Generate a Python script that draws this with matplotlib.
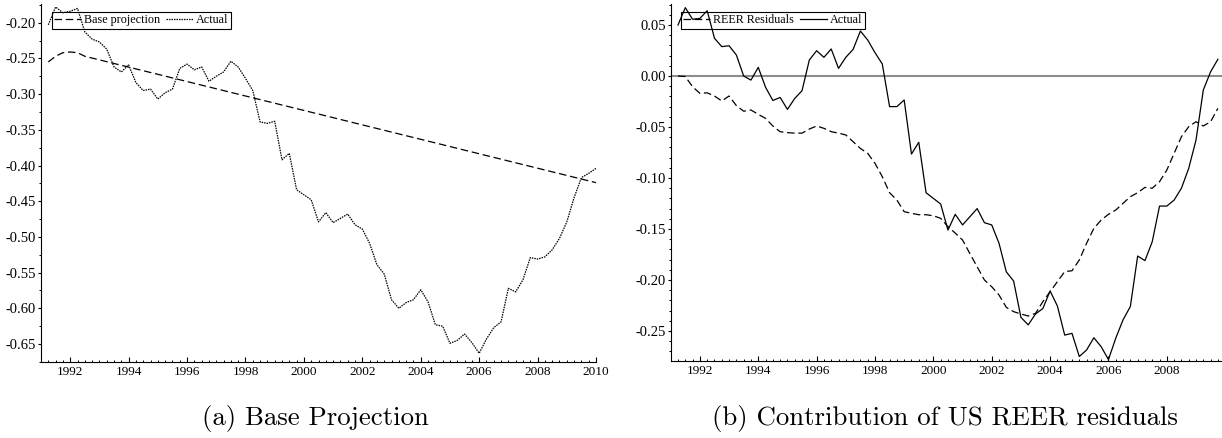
import numpy as np
import matplotlib
matplotlib.use("Agg")
import matplotlib.pyplot as plt
from matplotlib.ticker import MultipleLocator, FormatStrFormatter

# ---------------- data ----------------
start_year = 1991.25  # first quarter plotted

# Panel (a): actual (quarterly, 1991Q2 .. 2010Q1)
actual_a = [
    -0.203, -0.178, -0.186,                      # 1991
    -0.184, -0.180, -0.213, -0.223,              # 1992
    -0.227, -0.237, -0.262, -0.269,              # 1993
    -0.259, -0.284, -0.295, -0.293,              # 1994
    -0.307, -0.298, -0.293, -0.264,              # 1995
    -0.258, -0.266, -0.262, -0.282,              # 1996
    -0.275, -0.269, -0.254, -0.262,              # 1997
    -0.278, -0.295, -0.339, -0.341,              # 1998
    -0.338, -0.392, -0.383, -0.434,              # 1999
    -0.441, -0.448, -0.479, -0.466,              # 2000
    -0.480, -0.474, -0.468, -0.483,              # 2001
    -0.489, -0.509, -0.539, -0.552,              # 2002
    -0.588, -0.600, -0.592, -0.588,              # 2003
    -0.574, -0.591, -0.623, -0.625,              # 2004
    -0.649, -0.645, -0.636, -0.648,              # 2005
    -0.663, -0.643, -0.627, -0.619,              # 2006
    -0.572, -0.577, -0.560, -0.529,              # 2007
    -0.531, -0.528, -0.518, -0.502,              # 2008
    -0.479, -0.445, -0.417, -0.411,              # 2009
    -0.404,                                      # 2010
]
# Panel (a): base projection (read at its turning points)
base_years = [1991.25, 1991.5, 1991.75, 1992.0, 1992.25, 1992.5, 2010.0]
base_vals = [-0.255, -0.247, -0.242, -0.241, -0.242, -0.247, -0.424]

# Panel (b): actual (quarterly, 1991Q2 .. 2009Q4)
actual_b = [
    0.050, 0.067, 0.0556,                        # 1991
    0.0565, 0.064, 0.037, 0.0288,                # 1992
    0.0297, 0.0206, 0.000, -0.004,               # 1993
    0.0085, -0.011, -0.024, -0.021,              # 1994
    -0.0327, -0.022, -0.0144, 0.0157,            # 1995
    0.0248, 0.0183, 0.0265, 0.0075,              # 1996
    0.0183, 0.0261, 0.0441, 0.0353,              # 1997
    0.0229, 0.0118, -0.030, -0.030,              # 1998
    -0.0235, -0.0765, -0.065, -0.1144,           # 1999
    -0.120, -0.1255, -0.151, -0.1356,            # 2000
    -0.146, -0.138, -0.130, -0.1438,             # 2001
    -0.146, -0.164, -0.192, -0.201,              # 2002
    -0.2366, -0.244, -0.2333, -0.228,            # 2003
    -0.2108, -0.2255, -0.254, -0.2523,           # 2004
    -0.275, -0.2686, -0.2566, -0.2654,           # 2005
    -0.278, -0.257, -0.239, -0.226,              # 2006
    -0.1765, -0.181, -0.1624, -0.1275,           # 2007
    -0.1275, -0.1216, -0.110, -0.0905,           # 2008
    -0.0627, -0.0137, 0.0042, 0.0164,            # 2009
]
# Panel (b): REER residuals contribution
reer_b = [
    0.0, -0.0005, -0.0105,                       # 1991
    -0.017, -0.0165, -0.0196, -0.0245,           # 1992
    -0.0196, -0.029, -0.0345, -0.0333,           # 1993
    -0.0376, -0.0415, -0.049, -0.0546,           # 1994
    -0.0555, -0.056, -0.056, -0.052,             # 1995
    -0.049, -0.0513, -0.0546, -0.056,            # 1996
    -0.0578, -0.0644, -0.071, -0.0758,           # 1997
    -0.0856, -0.0987, -0.1144, -0.1216,          # 1998
    -0.133, -0.1346, -0.136, -0.136,             # 1999
    -0.137, -0.1395, -0.1477, -0.154,            # 2000
    -0.1608, -0.174, -0.187, -0.200,             # 2001
    -0.2066, -0.2147, -0.2268, -0.231,           # 2002
    -0.2333, -0.2353, -0.2327, -0.2213,          # 2003
    -0.2114, -0.2016, -0.1918, -0.1909,          # 2004
    -0.1804, -0.164, -0.1493, -0.1412,           # 2005
    -0.1356, -0.1314, -0.1248, -0.1183,          # 2006
    -0.1144, -0.1092, -0.110, -0.1036,           # 2007
    -0.0922, -0.0758, -0.0595, -0.0497,          # 2008
    -0.0448, -0.049, -0.0448, -0.0317,           # 2009
]

legend_a = ["Base projection", "Actual"]
legend_b = ["REER Residuals", "Actual"]
caption_a = "(a) Base Projection"
caption_b = "(b) Contribution of US REER residuals"

# ---------------- style ----------------
plt.rcParams["font.family"] = ["Liberation Serif", "DejaVu Serif"]
W, H = 1222, 438
fig = plt.figure(figsize=(W / 100, H / 100), dpi=100)


def px_axes(l, t, r, b):
    return fig.add_axes([l / W, 1 - b / H, (r - l) / W, (b - t) / H])


def style(ax, xmax, ymajor, yminor, yfmt):
    for s in ("top", "right"):
        ax.spines[s].set_visible(False)
    for s in ("left", "bottom"):
        ax.spines[s].set_linewidth(0.8)
    ax.xaxis.set_major_locator(MultipleLocator(2))
    ax.xaxis.set_minor_locator(MultipleLocator(0.25))
    ax.yaxis.set_major_locator(MultipleLocator(ymajor))
    ax.yaxis.set_minor_locator(MultipleLocator(yminor))
    ax.yaxis.set_major_formatter(FormatStrFormatter(yfmt))
    ax.xaxis.set_major_formatter(FormatStrFormatter("%d"))
    ax.tick_params(axis="x", which="major", direction="in", length=3.6, width=0.8,
                   pad=3, labelsize=9.5)
    ax.tick_params(axis="x", which="minor", direction="in", length=1.8, width=0.7)
    ax.tick_params(axis="y", which="major", direction="out", length=2.5, width=0.8,
                   pad=1, labelsize=10.5)
    ax.tick_params(axis="y", which="minor", direction="out", length=1.6, width=0.7)
    ax.set_xlim(1991.0, xmax)


def add_legend(ax, x, y):
    leg = ax.legend(loc="upper left", bbox_to_anchor=(x, y), ncol=2,
                    frameon=True, fancybox=False, borderaxespad=0,
                    fontsize=8.7, handlelength=2.2, handletextpad=0.25,
                    columnspacing=0.55, borderpad=0.2)
    fr = leg.get_frame()
    fr.set_edgecolor("black")
    fr.set_linewidth(0.8)
    fr.set_alpha(1.0)
    fr.set_facecolor("none")
    return leg


# Panel (a)
ax1 = px_axes(41, 4, 596, 362)
qa = start_year + 0.25 * np.arange(len(actual_a))
ax1.plot(base_years, base_vals, color="black", lw=0.9, linestyle=(0, (6, 3)),
         label=legend_a[0])
ax1.plot(qa, actual_a, color="black", lw=0.9, linestyle=(0, (1.2, 0.8)),
         label=legend_a[1])
style(ax1, 2010.0, 0.05, 0.025, "%.2f")
ax1.set_ylim(-0.6752, -0.1738)
add_legend(ax1, 0.019, 0.978)

# Panel (b)
ax2 = px_axes(670.7, 4, 1222, 361)
qb = start_year + 0.25 * np.arange(len(actual_b))
ax2.axhline(0.0, color="#8c8c8c", lw=1.5, zorder=1)
ax2.plot(qb, reer_b, color="black", lw=0.9, linestyle=(0, (6, 3)),
         label=legend_b[0])
ax2.plot(qb, actual_b, color="black", lw=0.9, label=legend_b[1])
style(ax2, 2009.89, 0.05, 0.01, "%.2f")
ax2.set_ylim(-0.2794, 0.0706)
add_legend(ax2, 0.018, 0.978)

# Captions
fig.text(315.5 / W, 1 - 425 / H, caption_a, family=["cmr10", "DejaVu Serif"],
         fontsize=19.3, ha="center", va="baseline")
fig.text(944.5 / W, 1 - 425 / H, caption_b, family=["cmr10", "DejaVu Serif"],
         fontsize=19.3, ha="center", va="baseline")

fig.savefig("out.png", dpi=100)
